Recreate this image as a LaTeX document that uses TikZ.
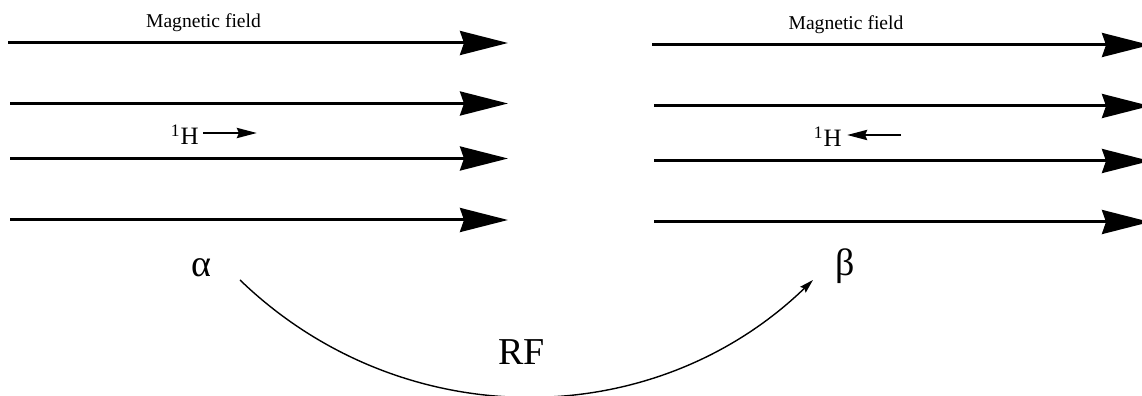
\documentclass[tikz,border=0pt]{standalone}
\usepackage{fontspec}
\setmainfont{Liberation Serif}
\usepackage{tikz}
\usetikzlibrary{positioning,arrows.meta}

\begin{document}
\begin{tikzpicture}[
  x=0.5pt, y=0.5pt,
  field/.style={line width=1.5pt,-{Stealth[length=24pt,width=12pt,inset=2pt]}},
  spin/.style={line width=1.4pt,-{Stealth[length=10pt,width=5pt,inset=1pt]}},
  flip/.style={line width=0.7pt,-{Stealth[length=7pt,width=4pt,inset=1pt]}},
  lbl/.style={font=\fontsize{9.8}{12}\selectfont},
  nuc/.style={font=\fontsize{12.5}{15}\selectfont,inner sep=0pt},
  state/.style={font=\fontsize{19}{22}\selectfont,inner sep=0pt}
]
\useasboundingbox (0,0) rectangle (1142,396);
\def\ltip{508}
\def\rtip{1150}

% Field lines, alpha state (left)
\foreach \i/\y/\xs in {1/353/8,2/292.5/10,3/237.5/10,4/176/10}{
  \coordinate (La\i) at (\xs,\y);
  \coordinate (Lb\i) at (\ltip,\y);
  \draw[field] (La\i) -- (Lb\i);
}

% Field lines, beta state (right)
\foreach \i/\y/\xs in {1/351/652,2/290/654,3/235/654,4/174/654}{
  \coordinate (Ra\i) at (\xs,\y);
  \coordinate (Rb\i) at (\rtip,\y);
  \draw[field] (Ra\i) -- (Rb\i);
}

% Field labels
\node[lbl,anchor=base] (mfL) at (203.5,368) {Magnetic field};
\node[lbl,anchor=base] (mfR) at (846,366) {Magnetic field};

% Nuclear spin
\node[nuc,anchor=base east] (hL) at (199,251) {\textsuperscript{1}H};
\coordinate (sLa) at (203,263);
\coordinate (sLb) at (257,263);
\draw[spin] (sLa) -- (sLb);

\node[nuc,anchor=base east] (hR) at (842,249) {\textsuperscript{1}H};
\coordinate (sRa) at (901,261);
\coordinate (sRb) at (847,261);
\draw[spin] (sRa) -- (sRb);

% States and RF transition
\node[state,anchor=base] (alpha) at (201,119) {α};
\node[state,anchor=base] (beta) at (845,120) {β};
\node[state,anchor=base] (rf) at (521.5,31) {RF};
\coordinate (cA) at (240,116);
\coordinate (cB) at (813,116);
\draw[flip] (cA) to[out=-44,in=-136] (cB);
\end{tikzpicture}
\end{document}
